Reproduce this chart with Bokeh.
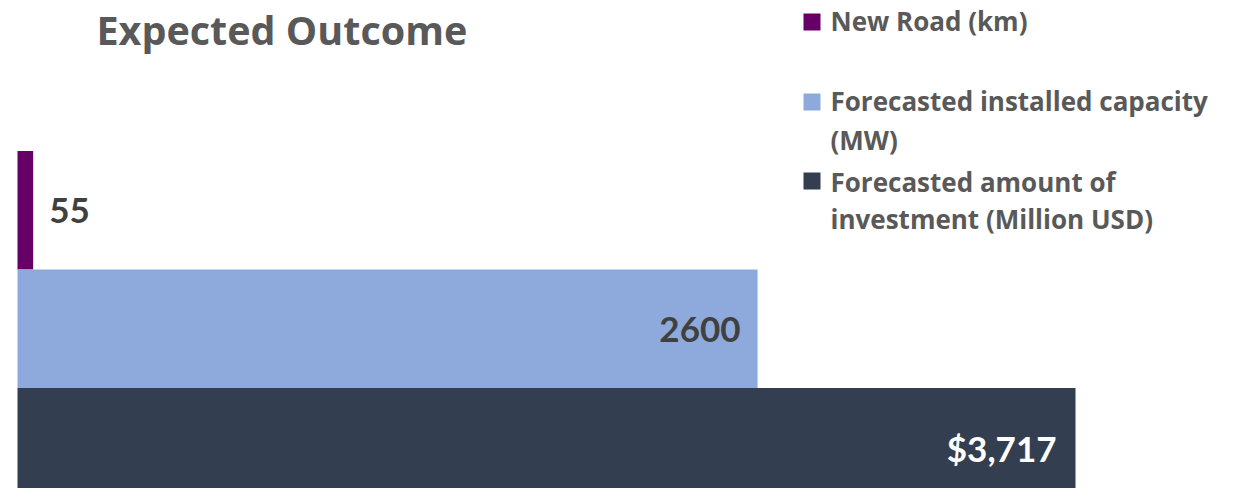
from bokeh.plotting import figure
from bokeh.models import Range1d, Label, BoxAnnotation, ColumnDataSource
from bokeh.core.properties import value
from bokeh.embed import file_html
from bokeh.resources import INLINE

# ---- data ----
categories = ["New Road (km)", "Forecasted installed capacity (MW)",
              "Forecasted amount of investment (Million USD)"]
values = [55, 2600, 3717]
value_labels = ["55", "2600", "$3,717"]
legend_lines = [["New Road (km)"],
                ["Forecasted installed capacity", "(MW)"],
                ["Forecasted amount of", "investment (Million USD)"]]
colors = ["#660066", "#8EA9DB", "#333F50"]
title_text = "Expected Outcome"

W, H = 1227, 488
VFONT = "Lato"
TFONT = "Open Sans"

p = figure(width=W, height=H, output_backend="svg", toolbar_location=None,
           x_range=Range1d(-59.7, 4251), y_range=Range1d(-0.348, 3.770),
           min_border=0, outline_line_color=None)
p.xaxis.visible = False
p.yaxis.visible = False
p.grid.visible = False
p.background_fill_color = "white"
p.border_fill_color = "white"

ypos = [2, 1, 0]
src = ColumnDataSource(dict(y=ypos, right=values, color=colors, label=value_labels))
p.hbar(y="y", left=0, right="right", height=1.0, fill_color="color",
       line_color=None, source=src)

# value labels
p.text(x=[values[0]], y=[ypos[0]], text=[value_labels[0]], x_offset=16, y_offset=0,
       text_align="left", text_baseline="middle", text_font=value(VFONT),
       text_font_style="bold", text_font_size="35px", text_color="#404040")
p.text(x=[values[1]], y=[ypos[1]], text=[value_labels[1]], x_offset=-17, y_offset=1,
       text_align="right", text_baseline="middle", text_font=value(VFONT),
       text_font_style="bold", text_font_size="35px", text_color="#404040")
p.text(x=[values[2]], y=[ypos[2]], text=[value_labels[2]], x_offset=-19, y_offset=1,
       text_align="right", text_baseline="middle", text_font=value(VFONT),
       text_font_style="bold", text_font_size="35px", text_color="white")

def sy(py):
    return H - py

# title
p.add_layout(Label(x=96, y=sy(29.5), x_units="screen", y_units="screen",
                   text=title_text, text_font=TFONT, text_font_style="bold",
                   text_font_size="39.5px", text_color="#595959",
                   text_baseline="alphabetic"))

# legend
sq_tops = [13, 93, 172]
baselines = [[20.5], [100.5, 139.5], [181.5, 218.5]]
for i in range(3):
    t = sq_tops[i]
    p.add_layout(BoxAnnotation(left=803, right=820, top=sy(t), bottom=sy(t + 17),
                               left_units="screen", right_units="screen",
                               top_units="screen", bottom_units="screen",
                               fill_color=colors[i], fill_alpha=1.0, line_color=None))
    for line, b in zip(legend_lines[i], baselines[i]):
        p.add_layout(Label(x=830, y=sy(b), x_units="screen", y_units="screen",
                           text=line, text_font=TFONT, text_font_style="bold",
                           text_font_size="26px", text_color="#595959",
                           text_baseline="alphabetic"))

open("out.html", "w").write(file_html(p, INLINE))
